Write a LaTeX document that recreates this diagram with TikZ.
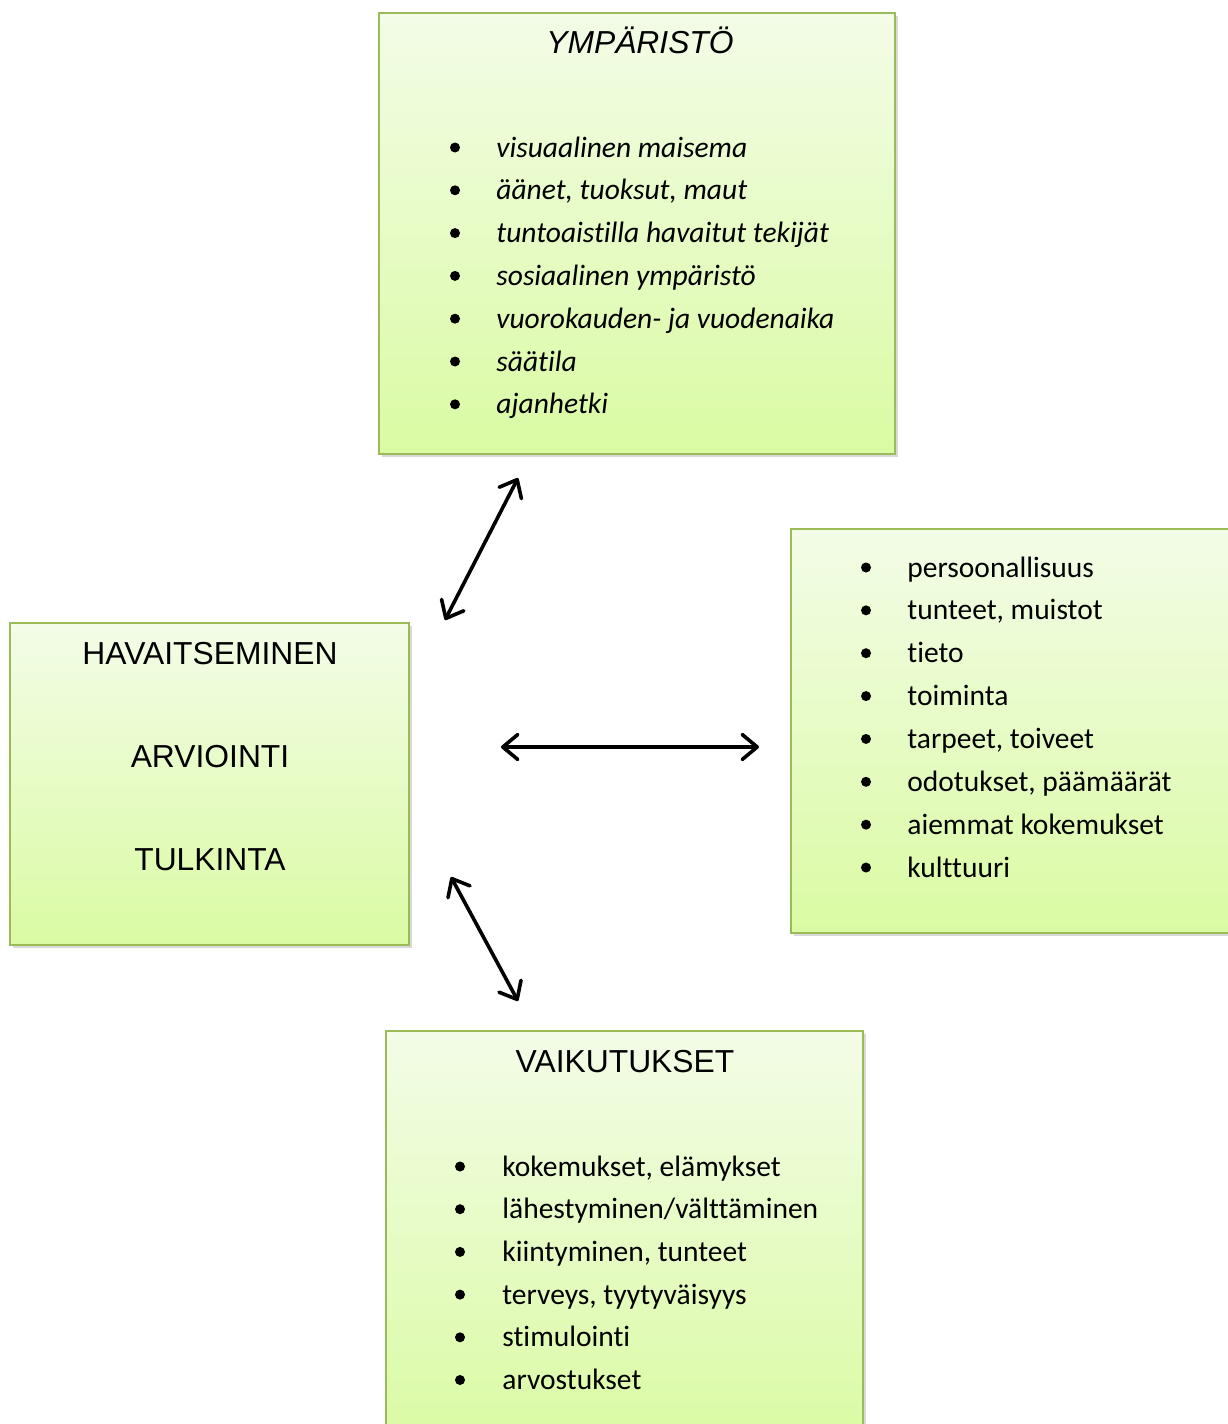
\documentclass[tikz,border=0pt]{standalone}
\usepackage{fontspec}
\setmainfont{Liberation Sans}
\newfontfamily\calibfont[Ligatures=NoCommon]{Carlito}
\usepackage{xcolor}
\usepackage{tikz}
\usetikzlibrary{arrows.meta, shadows}

\definecolor{boxedge}{RGB}{155,187,89}
\definecolor{boxtop}{RGB}{243,252,231}
\definecolor{boxbottom}{RGB}{218,251,163}

\begin{document}
\begin{tikzpicture}[x=0.5pt, y=-0.5pt,
    greenbox/.style={draw=boxedge, line width=1pt, top color=boxtop, bottom color=boxbottom,
        drop shadow={shadow xshift=1.5pt, shadow yshift=-1.5pt, opacity=0.3}, inner sep=0pt},
    heading/.style={anchor=base, inner sep=0pt, font=\fontsize{15.9}{19}\selectfont},
    item/.style={anchor=base west, inner sep=0pt, font=\calibfont\fontsize{14.75}{17}\selectfont},
    twoway/.style={{Straight Barb[length=7.5pt,width=12.5pt,line cap=round,line join=round]}-{Straight Barb[length=7.5pt,width=12.5pt,line cap=round,line join=round]}, line width=1.8pt}]
    \useasboundingbox (0,0) rectangle (1227,1424);

    % Boxes
    \node[greenbox, minimum width=258pt, minimum height=220.5pt] (env) at (637,233.5) {};
    \node[greenbox, minimum width=199.5pt, minimum height=161pt] (hav) at (209.5,784) {};
    \node[greenbox, minimum width=228pt, minimum height=202pt] (pers) at (1019,731) {};
    \node[greenbox, minimum width=238.5pt, minimum height=206.5pt] (vaik) at (624.5,1237.5) {};

    % Headings
    \node[heading, font=\fontsize{15.9}{19}\selectfont\itshape] (envtitle) at (640,53) {YMPÄRISTÖ};
    \node[heading] (havtitle) at (210,664) {HAVAITSEMINEN};
    \node[heading] (arvtitle) at (210,767) {ARVIOINTI};
    \node[heading] (tultitle) at (210,870) {TULKINTA};
    \node[heading] (vaiktitle) at (625,1072) {VAIKUTUKSET};

    % Lists
    \foreach \txt [count=\i from 0] in {visuaalinen maisema, {äänet, tuoksut, maut},
        tuntoaistilla havaitut tekijät, sosiaalinen ympäristö, vuorokauden- ja vuodenaika,
        säätila, ajanhetki} {
        \node[item, font=\calibfont\fontsize{14.75}{17}\selectfont\itshape] (env\i) at (496,{157+42.8*\i}) {\txt};
        \fill (455,{147.5+42.8*\i}) circle (5);
    }
    \foreach \txt [count=\i from 0] in {persoonallisuus, {tunteet, muistot}, tieto, toiminta,
        {tarpeet, toiveet}, {odotukset, päämäärät}, aiemmat kokemukset, kulttuuri} {
        \node[item] (pers\i) at (907,{577+42.86*\i}) {\txt};
        \fill (866,{567.5+42.86*\i}) circle (5);
    }
    \foreach \txt [count=\i from 0] in {{kokemukset, elämykset}, lähestyminen/välttäminen,
        {kiintyminen, tunteet}, {terveys, tyytyväisyys}, stimulointi, arvostukset} {
        \node[item] (vaik\i) at (502,{1176+42.7*\i}) {\txt};
        \fill (460,{1166.5+42.7*\i}) circle (5);
    }

    % Arrows
    \coordinate (envlo) at (445,620);
    \coordinate (envhi) at (518,478);
    \coordinate (persl) at (501,747);
    \coordinate (persr) at (759,747);
    \coordinate (vaikhi) at (451,877);
    \coordinate (vaiklo) at (518,1001);
    \draw[twoway] (envlo) -- (envhi);
    \draw[twoway] (persl) -- (persr);
    \draw[twoway] (vaikhi) -- (vaiklo);
\end{tikzpicture}
\end{document}
